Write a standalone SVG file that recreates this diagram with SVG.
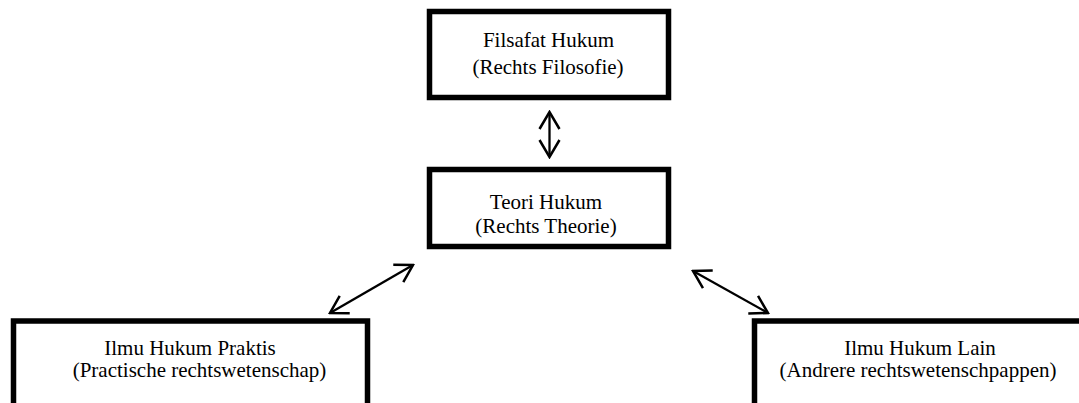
<svg xmlns="http://www.w3.org/2000/svg" width="1079" height="403" viewBox="0 0 1079 403">
<style>
.box{fill:#fff;stroke:#000;stroke-width:5.5}
.t{font-family:"Liberation Serif","Times New Roman",serif;font-size:21px;fill:#000;text-anchor:middle}
.c{stroke:#000;stroke-width:2.3;fill:none}
</style>
<defs>
<marker id="ah" viewBox="-18 -12 20 24" refX="0" refY="0" markerWidth="20" markerHeight="24" markerUnits="userSpaceOnUse" orient="auto-start-reverse">
<path d="M-17,-10 L0,0 L-17,10" fill="none" stroke="#000" stroke-width="2.5" stroke-linejoin="miter"/>
</marker>
</defs>
<rect width="1079" height="403" fill="#fff"/>
<line x1="757" y1="395.5" x2="1079" y2="395.5" stroke="#d8d8d8" stroke-width="1"/>
<g id="n-filsafat">
<rect class="box" x="429.5" y="11.5" width="239" height="86"/>
<text class="t" x="548.5" y="47">Filsafat Hukum</text>
<text class="t" x="548" y="74">(Rechts Filosofie)</text>
</g>
<g id="n-teori">
<rect class="box" x="429.5" y="169.5" width="239" height="77"/>
<text class="t" x="546" y="209">Teori Hukum</text>
<text class="t" x="546" y="233">(Rechts Theorie)</text>
</g>
<g id="n-praktis">
<rect class="box" x="13.5" y="321" width="354" height="120"/>
<text class="t" x="190" y="355">Ilmu Hukum Praktis</text>
<text class="t" x="199.5" y="377">(Practische rechtswetenschap)</text>
</g>
<g id="n-lain">
<rect class="box" x="754.5" y="321" width="360" height="120"/>
<text class="t" x="920" y="355">Ilmu Hukum Lain</text>
<text class="t" x="918" y="377">(Andrere rechtswetenschpappen)</text>
</g>
<g id="connectors">
<line class="c" x1="549.5" y1="112" x2="549.5" y2="157" marker-start="url(#ah)" marker-end="url(#ah)"/>
<line class="c" x1="330" y1="313" x2="413" y2="265" marker-start="url(#ah)" marker-end="url(#ah)"/>
<line class="c" x1="693" y1="271" x2="768" y2="313" marker-start="url(#ah)" marker-end="url(#ah)"/>
</g>
</svg>
